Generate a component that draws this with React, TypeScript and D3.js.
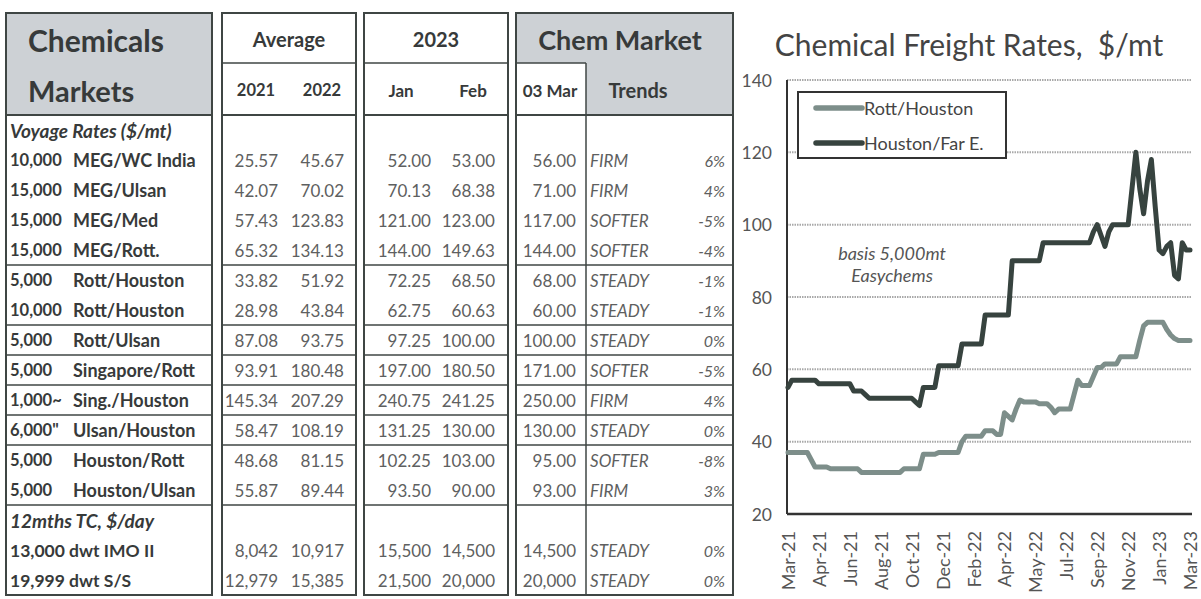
import * as React from "react";
import * as d3 from "d3";

// ---- table data ----
const tonnage = ["Voyage Rates ($/mt)", "10,000", "15,000", "15,000", "15,000", "5,000", "10,000", "5,000", "5,000", "1,000~", "6,000\"", "5,000", "5,000", "12mths TC, $/day", "13,000 dwt IMO II", "19,999 dwt S/S"];
const routes = ["", "MEG/WC India", "MEG/Ulsan", "MEG/Med", "MEG/Rott.", "Rott/Houston", "Rott/Houston", "Rott/Ulsan", "Singapore/Rott", "Sing./Houston", "Ulsan/Houston", "Houston/Rott", "Houston/Ulsan", "", "", ""];
const sectionRows = [0, 13];
const avg2021 = ["", "25.57", "42.07", "57.43", "65.32", "33.82", "28.98", "87.08", "93.91", "145.34", "58.47", "48.68", "55.87", "", "8,042", "12,979"];
const avg2022 = ["", "45.67", "70.02", "123.83", "134.13", "51.92", "43.84", "93.75", "180.48", "207.29", "108.19", "81.15", "89.44", "", "10,917", "15,385"];
const jan2023 = ["", "52.00", "70.13", "121.00", "144.00", "72.25", "62.75", "97.25", "197.00", "240.75", "131.25", "102.25", "93.50", "", "15,500", "21,500"];
const feb2023 = ["", "53.00", "68.38", "123.00", "149.63", "68.50", "60.63", "100.00", "180.50", "241.25", "130.00", "103.00", "90.00", "", "14,500", "20,000"];
const mar03 = ["", "56.00", "71.00", "117.00", "144.00", "68.00", "60.00", "100.00", "171.00", "250.00", "130.00", "95.00", "93.00", "", "14,500", "20,000"];
const trends = ["", "FIRM", "FIRM", "SOFTER", "SOFTER", "STEADY", "STEADY", "STEADY", "SOFTER", "FIRM", "STEADY", "SOFTER", "FIRM", "", "STEADY", "STEADY"];
const changes = ["", "6%", "4%", "-5%", "-4%", "-1%", "-1%", "0%", "-5%", "4%", "0%", "-8%", "3%", "", "0%", "0%"];
const dividerAfter = [4, 6, 7, 8, 9, 10, 12];

// ---- chart data (weekly, Mar-21 .. Mar-23) ----
const xLabels = ["Mar-21", "Apr-21", "Jun-21", "Aug-21", "Oct-21", "Dec-21", "Feb-22", "Apr-22", "May-22", "Jul-22", "Sep-22", "Nov-22", "Jan-23", "Mar-23"];
const yTicks = [20, 40, 60, 80, 100, 120, 140];
const rottHouston = [
  37, 37, 37, 37, 37, 37, 35, 33, 33, 33, 33,
  32.5, 32.5, 32.5, 32.5, 32.5, 32.5, 32.5, 32.5,
  31.5, 31.5, 31.5, 31.5, 31.5, 31.5, 31.5, 31.5, 31.5, 31.5, 31.5,
  32.5, 32.5, 32.5, 32.5, 32.5,
  36.5, 36.5, 36.5, 36.5, 37, 37, 37, 37, 37, 37,
  40, 41.5, 41.5, 41.5, 41.5, 41.5, 43, 43, 43, 42, 42,
  48, 47, 46, 49, 51.5, 51, 51, 51, 51, 50.5, 50.5, 50.5, 49.5, 48,
  49, 49, 49, 49, 53, 57, 55.5, 55.5, 55.5, 58, 60.5, 60.5,
  61.5, 61.5, 61.5, 61.5, 63.5, 63.5, 63.5, 63.5, 63.5,
  68, 72, 73, 73, 73, 73, 73, 71, 69.5, 68.5, 68, 68, 68, 68,
];
const houstonFarEast = [
  55, 57, 57, 57, 57, 57, 57, 57,
  56, 56, 56, 56, 56, 56, 56, 56, 56,
  54, 54, 54, 53,
  52, 52, 52, 52, 52, 52, 52, 52, 52, 52, 52, 52,
  51, 50, 55, 55, 55, 55,
  61, 61, 61, 61, 61, 61, 67, 67, 67, 67, 67, 67,
  75, 75, 75, 75, 75, 75, 75,
  90, 90, 90, 90, 90, 90, 90, 90,
  95, 95, 95, 95, 95, 95, 95, 95, 95, 95, 95, 95, 95,
  98, 100, 97, 94, 98, 100, 100, 100, 100, 100,
  110, 120, 110, 103, 112, 118, 105, 93, 92, 94, 95, 86, 85, 95, 93, 93,
];

const FONT = "Lato, 'Open Sans', sans-serif";
const GREY_HEAD = "#cdd1d5";
const LINE = "#3f4644";
const TXT_DARK = "#373a3a";
const TXT_NUM = "#5e6060";
const LIGHT = "#7d8e8a";
const DARK = "#37433f";

const blocks = [
  { x0: 6, x1: 212 },
  { x0: 222, x1: 356 },
  { x0: 364, x1: 508 },
  { x0: 516, x1: 733 },
];
const top = 13;
const mid = 63;
const headBottom = 115;
const bottom = 595;

const Table = () => {
  const rowY = d3.scaleLinear().domain([0, 16]).range([headBottom, bottom]);
  const cy = (i: number) => rowY(i + 0.5);
  const numStyle = { fontSize: 17, fill: TXT_NUM, textAnchor: "end" as const };
  const cols = [
    { vals: avg2021, x: 278 },
    { vals: avg2022, x: 344 },
    { vals: jan2023, x: 431 },
    { vals: feb2023, x: 495 },
    { vals: mar03, x: 576 },
  ];
  const labelSize = (i: number) => (sectionRows.includes(i) ? 19 : i > 13 ? 17.5 : 16.5);
  return (
    <g fontFamily={FONT} dominantBaseline="central">
      {/* header shading */}
      <rect x={blocks[0].x0} y={top} width={blocks[0].x1 - blocks[0].x0} height={headBottom - top} fill={GREY_HEAD} />
      <rect x={blocks[3].x0} y={top} width={blocks[3].x1 - blocks[3].x0} height={mid - top} fill={GREY_HEAD} />
      <rect x={586} y={mid} width={blocks[3].x1 - 586} height={headBottom - mid} fill={GREY_HEAD} />

      {blocks.map((b, i) => (
        <g key={i}>
          <rect x={b.x0} y={top} width={b.x1 - b.x0} height={bottom - top} fill="none" stroke={LINE} strokeWidth={2} />
          <line x1={b.x0} x2={b.x1} y1={headBottom} y2={headBottom} stroke={LINE} strokeWidth={1.8} />
          {i > 0 && <line x1={b.x0} x2={i === 3 ? 586 : b.x1} y1={mid} y2={mid} stroke={LINE} strokeWidth={1.5} />}
          {dividerAfter.map((r) => (
            <line key={r} x1={b.x0} x2={b.x1} y1={rowY(r + 1)} y2={rowY(r + 1)} stroke={LINE} strokeWidth={1.5} />
          ))}
        </g>
      ))}
      <line x1={586} x2={586} y1={mid} y2={bottom} stroke={LINE} strokeWidth={1.5} />

      {/* header text */}
      <g fill={TXT_DARK} fontWeight="bold">
        <text x={28} y={40} fontSize={30}>Chemicals</text>
        <text x={28} y={90} fontSize={29}>Markets</text>
        <text x={289} y={39} fontSize={20} textAnchor="middle">Average</text>
        <text x={256} y={90} fontSize={16.5} textAnchor="middle">2021</text>
        <text x={322} y={90} fontSize={16.5} textAnchor="middle">2022</text>
        <text x={436} y={39} fontSize={20} textAnchor="middle">2023</text>
        <text x={401} y={90} fontSize={17} textAnchor="middle">Jan</text>
        <text x={473} y={90} fontSize={17} textAnchor="middle">Feb</text>
        <text x={620} y={39} fontSize={27} textAnchor="middle">Chem Market</text>
        <text x={550} y={90} fontSize={17} textAnchor="middle">03 Mar</text>
        <text x={638} y={90} fontSize={20} textAnchor="middle">Trends</text>
      </g>

      {/* rows */}
      {tonnage.map((t, i) => {
        const isSection = sectionRows.includes(i);
        return (
          <g key={i}>
            <text x={10} y={cy(i)} fontSize={labelSize(i)} fontWeight="bold" fontStyle={isSection ? "italic" : "normal"} fill={TXT_DARK}>
              {t}
            </text>
            {routes[i] && (
              <text x={73} y={cy(i)} fontSize={18} fontWeight="bold" fill={TXT_DARK}>
                {routes[i]}
              </text>
            )}
            {cols.map((c, k) => (
              <text key={k} x={c.x} y={cy(i)} {...numStyle}>
                {c.vals[i]}
              </text>
            ))}
            <text x={590} y={cy(i)} fontSize={17} fontStyle="italic" fill={TXT_NUM}>
              {trends[i]}
            </text>
            <text x={725} y={cy(i)} fontSize={16} fontStyle="italic" fill={TXT_NUM} textAnchor="end">
              {changes[i]}
            </text>
          </g>
        );
      })}
    </g>
  );
};

const Chart = () => {
  const x = d3.scaleLinear().domain([0, 104]).range([788, 1190]);
  const y = d3.scaleLinear().domain([20, 140]).range([514, 80]);
  const line = d3
    .line<number>()
    .x((d, i) => x(i))
    .y((d) => y(d));
  const left = 787;
  const right = 1192;
  return (
    <g fontFamily={FONT}>
      <text x={969} y={44} fontSize={30} fill="#444" textAnchor="middle" dominantBaseline="central">
        Chemical Freight Rates,{"\u00a0\u00a0"}$/mt
      </text>
      {yTicks.slice(1).map((t) => (
        <line key={t} x1={left} x2={right} y1={y(t)} y2={y(t)} stroke="#a9a9a9" strokeWidth={2} strokeDasharray="1.5 1" />
      ))}
      {yTicks.map((t) => (
        <text key={t} x={772} y={y(t)} fontSize={17.5} fill="#555" textAnchor="end" dominantBaseline="central">
          {t}
        </text>
      ))}
      <line x1={left} x2={left} y1={y(140)} y2={y(20)} stroke="#333" strokeWidth={2} />
      <line x1={left} x2={right} y1={y(20)} y2={y(20)} stroke="#333" strokeWidth={2.5} />
      {xLabels.map((l, i) => (
        <text
          key={l + i}
          transform={`translate(${x(i * 8)},531) rotate(-90)`}
          fontSize={18}
          fill="#555"
          textAnchor="end"
          dominantBaseline="central"
        >
          {l}
        </text>
      ))}
      <path d={line(rottHouston) || ""} fill="none" stroke={LIGHT} strokeWidth={5} strokeLinejoin="round" strokeLinecap="round" />
      <path d={line(houstonFarEast) || ""} fill="none" stroke={DARK} strokeWidth={5} strokeLinejoin="round" strokeLinecap="round" />

      {/* legend */}
      <rect x={798} y={92} width={208} height={66} fill="#fff" stroke="#333" strokeWidth={2} />
      <line x1={816} x2={862} y1={108} y2={108} stroke={LIGHT} strokeWidth={5.5} strokeLinecap="round" />
      <line x1={816} x2={862} y1={143} y2={143} stroke={DARK} strokeWidth={5.5} strokeLinecap="round" />
      <text x={864} y={108} fontSize={18} fill="#444" dominantBaseline="central">Rott/Houston</text>
      <text x={864} y={143} fontSize={18} fill="#444" dominantBaseline="central">Houston/Far E.</text>

      <text x={892} y={253} fontSize={18} fontStyle="italic" fill="#555" textAnchor="middle" dominantBaseline="central">
        basis 5,000mt
      </text>
      <text x={892} y={275} fontSize={18} fontStyle="italic" fill="#555" textAnchor="middle" dominantBaseline="central">
        Easychems
      </text>
    </g>
  );
};

export default function App() {
  return (
    <svg width={1201} height={599} style={{ position: "absolute", left: 0, top: 0, background: "#fff" }}>
      <Table />
      <Chart />
    </svg>
  );
}
